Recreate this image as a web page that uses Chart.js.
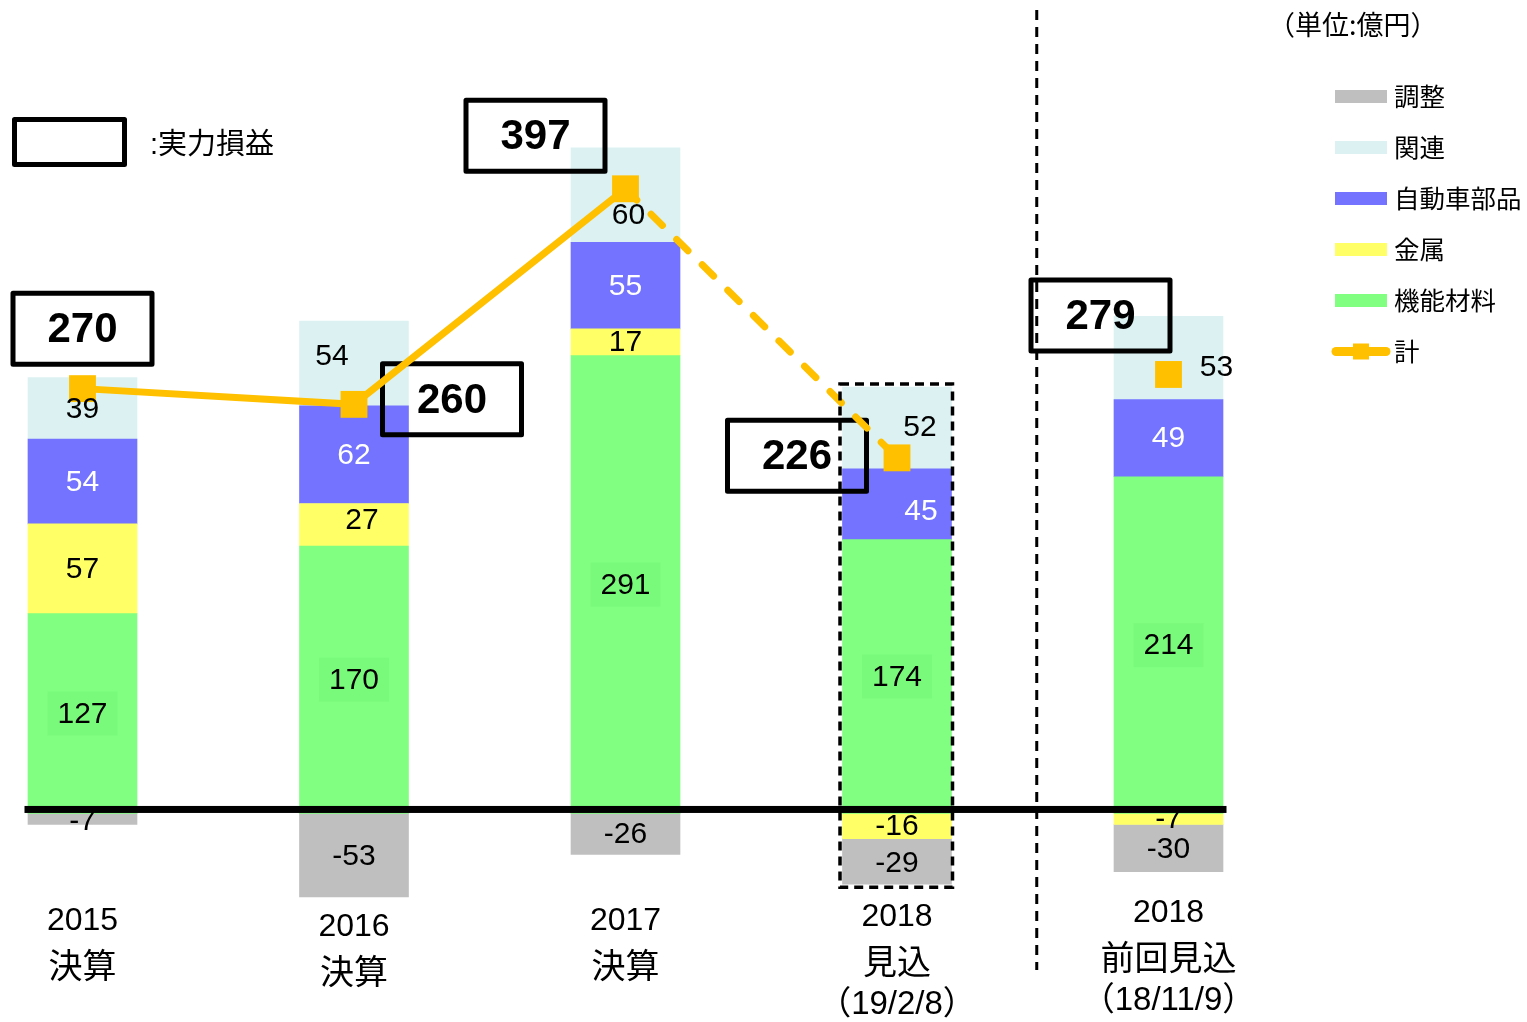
<!DOCTYPE html>
<html><head><meta charset="utf-8">
<script src="https://cdn.jsdelivr.net/npm/chart.js@4/dist/chart.umd.min.js"></script>
<style>html,body{margin:0;padding:0;background:#fff;overflow:hidden}#wrap{position:relative;width:1527px;height:1022px}</style>
</head><body><div id="wrap"><canvas id="c"></canvas></div>
<script>
// ---- data ----
const categories = [['2015','決算'],['2016','決算'],['2017','決算'],['2018','見込','（19/2/8）'],['2018','前回見込','（18/11/9）']];
const functionalMaterials = [127, 170, 291, 174, 214]; // 機能材料
const metals = [57, 27, 17, -16, -7];                  // 金属
const autoParts = [54, 62, 55, 45, 49];                // 自動車部品
const affiliates = [39, 54, 60, 52, 53];               // 関連
const adjustments = [-7, -53, -26, -29, -30];          // 調整
const totals = [270, 260, 397, 226, 279];              // 計 (実力損益)
const seriesNames = ['機能材料', '金属', '自動車部品', '関連', '調整', '計'];
const legendOrder = [4, 3, 2, 1, 0, 5];
const unitText = '（単位:億円）';
const boxLegendText = ':実力損益';

// ---- styles ----
const COLORS = ['#80ff80', '#ffff66', '#7373ff', '#dcf2f2', '#bfbfbf', '#ffc000'];
const LABEL_COLORS = ['#000', '#000', '#fff', '#000', '#000'];
const labelOffsets = [
  [[0,0],[0,0],[0,0],[0,0],[0,0]],
  [[0,0],[8,-5],[0,0],[0,0],[0,0]],
  [[0,0],[0,0],[0,0],[24,6],[0,0]],
  [[0,0],[-22,-8],[3,20],[23,-1],[48,9]],
  [[0,2],[0,1],[0,0],[0,1],[0,1]]
];
const boxOffsets = [[0,-60],[98,-5],[-90,-53],[-100,-2],[-68,-59]];
const catLabelTop = [108, 114, 108, 104, 100]; // relative to zero pixel
const catLineGaps = [0, 44, 87];
const NUM_FONT = '30px "Liberation Sans", Arial, sans-serif';
const CAT_FONTS = ['32px "Liberation Sans", "Noto Sans CJK JP", sans-serif',
                   '34px "Noto Sans CJK JP", sans-serif',
                   '33px "Liberation Sans", "Noto Sans CJK JP", sans-serif'];
const JP_FONT = '"Noto Sans CJK JP", sans-serif';

const barSeries = [functionalMaterials, metals, autoParts, affiliates, adjustments];

const datasets = barSeries.map((d, i) => ({
  type: 'bar', label: seriesNames[i], data: d, backgroundColor: COLORS[i],
  borderWidth: 0, barThickness: 109, stack: 'bars', order: 1, clip: false
}));
datasets.push({
  type: 'line', label: seriesNames[5], data: totals, stack: 'total', order: 0, clip: false,
  borderColor: COLORS[5], borderWidth: 7, tension: 0, borderCapStyle: 'butt',
  pointStyle: 'rect', pointRadius: 19, pointBackgroundColor: COLORS[5], pointBorderWidth: 0,
  segment: {
    borderDash: c => c.p0DataIndex === 2 ? [16, 20] : undefined,
    borderCapStyle: c => c.p0DataIndex === 2 ? 'round' : undefined,
    borderColor: c => c.p0DataIndex === 3 ? 'rgba(0,0,0,0)' : undefined
  }
});

const deco = {
  id: 'deco',
  beforeDatasetDraw(chart, args) {
    if (args.meta.type !== 'line') return;
    const ctx = chart.ctx;
    ctx.save();
    ctx.lineWidth = 5; ctx.strokeStyle = '#000'; ctx.lineJoin = 'round';
    ctx.font = 'bold 42px "Liberation Sans", Arial, sans-serif';
    ctx.textAlign = 'center'; ctx.textBaseline = 'middle'; ctx.fillStyle = '#000';
    args.meta.data.forEach((pt, i) => {
      const cx = pt.x + boxOffsets[i][0], cy = pt.y + boxOffsets[i][1];
      ctx.strokeRect(cx - 69.5, cy - 35.5, 139, 71);
      ctx.fillText(String(totals[i]), cx, cy + 2);
    });
    ctx.restore();
  },
  afterDatasetsDraw(chart) {
    const ctx = chart.ctx;
    const xs = chart.scales.x, ys = chart.scales.y;
    const zero = ys.getPixelForValue(0);
    ctx.save();
    // segment labels
    ctx.font = NUM_FONT; ctx.textAlign = 'center'; ctx.textBaseline = 'middle';
    barSeries.forEach((d, di) => {
      const meta = chart.getDatasetMeta(di);
      meta.data.forEach((bar, i) => {
        const cx = bar.x + labelOffsets[di][i][0];
        const cy = (bar.y + bar.base) / 2 + labelOffsets[di][i][1];
        if (di === 0) { ctx.fillStyle = '#7afa7a'; ctx.fillRect(cx - 35, cy - 22, 70, 44); }
        ctx.fillStyle = LABEL_COLORS[di];
        ctx.fillText(String(d[i]), cx, cy + 1);
      });
    });
    // zero line
    ctx.fillStyle = '#000';
    ctx.fillRect(xs.getPixelForValue(0) - 58, zero - 7.5, xs.getPixelForValue(4) - xs.getPixelForValue(0) + 116, 7);
    // dashed box around 2018 forecast
    let top = Infinity, bot = -Infinity, l = 0, r = 0;
    barSeries.forEach((d, di) => {
      const b = chart.getDatasetMeta(di).data[3];
      top = Math.min(top, b.y, b.base); bot = Math.max(bot, b.y, b.base);
      l = b.x - b.width / 2; r = b.x + b.width / 2;
    });
    ctx.setLineDash([9, 6]); ctx.lineWidth = 3.5; ctx.strokeStyle = '#000';
    ctx.strokeRect(l - 2.5, top - 3, r - l + 3.5, bot - top + 6);
    // vertical separator
    const vx = (xs.getPixelForValue(3) + xs.getPixelForValue(4)) / 2 + 4;
    ctx.setLineDash([10, 7]); ctx.lineWidth = 3;
    ctx.beginPath(); ctx.moveTo(vx, 10); ctx.lineTo(vx, 970); ctx.stroke();
    ctx.setLineDash([]);
    // category labels
    ctx.fillStyle = '#000'; ctx.textBaseline = 'middle'; ctx.textAlign = 'center';
    categories.forEach((lines, i) => {
      const x = xs.getPixelForValue(i);
      lines.forEach((t, k) => {
        ctx.font = CAT_FONTS[k];
        ctx.fillText(t, x, zero + catLabelTop[i] + catLineGaps[k]);
      });
    });
    // unit text
    ctx.textAlign = 'left'; ctx.font = '27px ' + JP_FONT;
    ctx.fillText(unitText, 1268, 25);
    // box legend
    ctx.lineWidth = 5; ctx.lineJoin = 'round';
    ctx.strokeRect(14.5, 119.5, 110, 45);
    ctx.font = '29px "Liberation Sans", "Noto Sans CJK JP", sans-serif';
    ctx.fillText(boxLegendText, 150, 146);
    // series legend
    ctx.font = '25.5px ' + JP_FONT;
    legendOrder.forEach((di, k) => {
      const y = 96.5 + k * 51;
      if (di < 5) {
        ctx.fillStyle = COLORS[di]; ctx.fillRect(1335, y - 6.5, 52, 13);
      } else {
        ctx.strokeStyle = COLORS[5]; ctx.lineWidth = 9; ctx.lineCap = 'round';
        ctx.beginPath(); ctx.moveTo(1336, y); ctx.lineTo(1386, y); ctx.stroke();
        ctx.fillStyle = COLORS[5]; ctx.fillRect(1353, y - 8, 16, 16);
      }
      ctx.fillStyle = '#000';
      ctx.fillText(seriesNames[di], 1394, y);
    });
    ctx.restore();
  }
};

new Chart(document.getElementById('c'), {
  data: { labels: categories.map(c => c.join(' ')), datasets },
  options: {
    responsive: true, maintainAspectRatio: false, animation: false, devicePixelRatio: 1,
    events: [],
    layout: { autoPadding: false, padding: { left: 82.5, right: 358.5, top: 11, bottom: 4 } },
    plugins: { legend: { display: false }, tooltip: { enabled: false } },
    scales: {
      x: { type: 'category', display: false, offset: false, stacked: true, grid: { offset: false } },
      y: { display: false, stacked: true, min: -130, max: 510 }
    }
  },
  plugins: [deco]
});
</script>
</body></html>
